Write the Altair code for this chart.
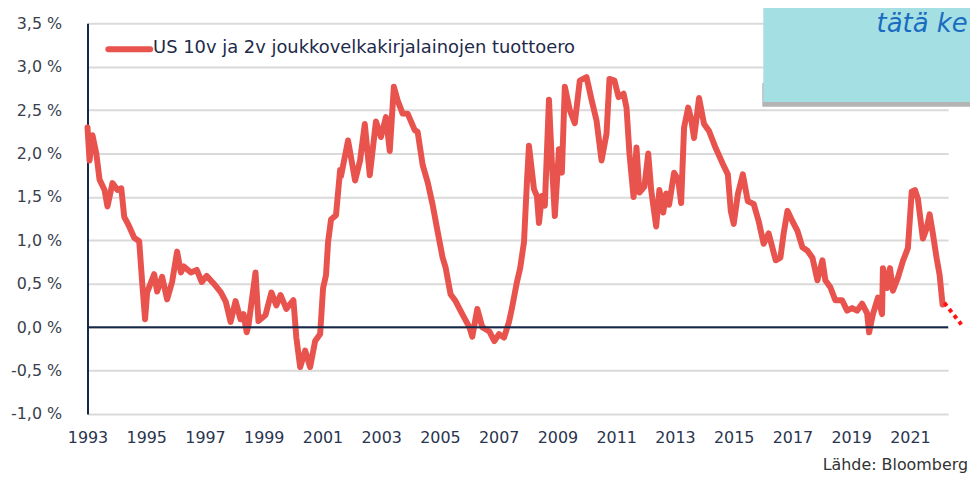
import altair as alt
import pandas as pd

# ---- data ----
years = [
    1993.00, 1993.07, 1993.17, 1993.30, 1993.41, 1993.58, 1993.68, 1993.85, 1994.02, 1994.15,
    1994.25, 1994.42, 1994.59, 1994.76, 1994.86, 1994.96, 1995.03, 1995.27, 1995.37, 1995.54,
    1995.71, 1995.88, 1996.05, 1996.18, 1996.28, 1996.52, 1996.72, 1996.89, 1997.06, 1997.30,
    1997.54, 1997.71, 1997.87, 1998.04, 1998.21, 1998.31, 1998.42, 1998.48, 1998.72, 1998.82,
    1999.06, 1999.26, 1999.43, 1999.57, 1999.77, 2000.01, 2000.11, 2000.24, 2000.41, 2000.58,
    2000.75, 2000.92, 2001.02, 2001.12, 2001.19, 2001.29, 2001.46, 2001.60, 2001.63, 2001.87,
    2002.11, 2002.28, 2002.44, 2002.61, 2002.82, 2002.99, 2003.16, 2003.29, 2003.43, 2003.56,
    2003.73, 2003.90, 2004.14, 2004.24, 2004.41, 2004.58, 2004.75, 2004.92, 2005.09, 2005.19,
    2005.36, 2005.53, 2005.76, 2006.00, 2006.10, 2006.27, 2006.44, 2006.68, 2006.85, 2007.01,
    2007.18, 2007.35, 2007.45, 2007.62, 2007.73, 2007.86, 2007.96, 2008.03, 2008.20, 2008.30,
    2008.37, 2008.47, 2008.57, 2008.71, 2008.81, 2008.91, 2009.05, 2009.15, 2009.25, 2009.42,
    2009.59, 2009.76, 2009.99, 2010.16, 2010.33, 2010.50, 2010.67, 2010.77, 2010.94, 2011.08,
    2011.25, 2011.35, 2011.45, 2011.59, 2011.69, 2011.79, 2011.96, 2012.09, 2012.19, 2012.36,
    2012.47, 2012.60, 2012.70, 2012.80, 2012.97, 2013.11, 2013.21, 2013.31, 2013.45, 2013.55,
    2013.65, 2013.82, 2013.99, 2014.16, 2014.39, 2014.63, 2014.80, 2014.90, 2015.00, 2015.14,
    2015.31, 2015.48, 2015.68, 2015.85, 2016.02, 2016.19, 2016.43, 2016.59, 2016.70, 2016.83,
    2017.00, 2017.17, 2017.34, 2017.51, 2017.68, 2017.85, 2018.02, 2018.12, 2018.29, 2018.46,
    2018.69, 2018.86, 2019.03, 2019.20, 2019.37, 2019.54, 2019.61, 2019.74, 2019.91, 2020.05,
    2020.08, 2020.22, 2020.32, 2020.42, 2020.59, 2020.76, 2020.93, 2021.06, 2021.17, 2021.27,
    2021.44, 2021.57, 2021.67, 2021.77, 2021.91, 2022.01, 2022.11,
]
spread = [
    2.30, 1.92, 2.21, 2.00, 1.70, 1.58, 1.39, 1.66, 1.58, 1.60,
    1.27, 1.16, 1.03, 0.99, 0.52, 0.09, 0.40, 0.61, 0.41, 0.58,
    0.32, 0.52, 0.87, 0.63, 0.70, 0.63, 0.66, 0.52, 0.59, 0.50,
    0.40, 0.29, 0.06, 0.30, 0.09, 0.15, -0.06, 0.02, 0.63, 0.07,
    0.14, 0.40, 0.25, 0.37, 0.21, 0.31, -0.12, -0.46, -0.27, -0.46,
    -0.16, -0.08, 0.45, 0.60, 0.98, 1.24, 1.29, 1.81, 1.74, 2.15,
    1.69, 1.92, 2.34, 1.75, 2.37, 2.19, 2.42, 2.03, 2.77, 2.61,
    2.46, 2.46, 2.27, 2.25, 1.87, 1.67, 1.41, 1.10, 0.80, 0.69,
    0.38, 0.30, 0.15, 0.00, -0.11, 0.21, 0.00, -0.05, -0.16, -0.08,
    -0.12, 0.06, 0.22, 0.52, 0.68, 0.98, 1.67, 2.09, 1.59, 1.51,
    1.20, 1.51, 1.40, 2.62, 1.89, 1.28, 2.05, 1.78, 2.77, 2.50,
    2.35, 2.84, 2.88, 2.62, 2.38, 1.92, 2.23, 2.86, 2.84, 2.65,
    2.69, 2.53, 2.00, 1.50, 2.07, 1.55, 1.62, 2.00, 1.58, 1.16,
    1.58, 1.32, 1.54, 1.41, 1.78, 1.70, 1.43, 2.30, 2.53, 2.40,
    2.18, 2.64, 2.34, 2.26, 2.06, 1.88, 1.76, 1.34, 1.19, 1.53,
    1.76, 1.45, 1.42, 1.22, 0.96, 1.08, 0.77, 0.80, 1.08, 1.34,
    1.22, 1.11, 0.92, 0.88, 0.80, 0.54, 0.77, 0.54, 0.46, 0.31,
    0.31, 0.19, 0.22, 0.19, 0.27, 0.16, -0.06, 0.15, 0.34, 0.15,
    0.68, 0.45, 0.68, 0.42, 0.57, 0.76, 0.91, 1.56, 1.58, 1.48,
    1.02, 1.14, 1.30, 1.10, 0.79, 0.60, 0.26,
]
trend_years = [2022.17, 2022.75]
trend_values = [0.28, 0.03]

series_name = "US 10v ja 2v joukkovelkakirjalainojen tuottoero"
y_ticks = [-1.0, -0.5, 0.0, 0.5, 1.0, 1.5, 2.0, 2.5, 3.0, 3.5]
x_ticks = [1993, 1995, 1997, 1999, 2001, 2003, 2005, 2007, 2009, 2011, 2013, 2015, 2017, 2019, 2021]
source_text = "Lähde: Bloomberg"
note_text = "tätä ke"

FONT = "DejaVu Sans"
NAVY = "#16284a"
RED = "#e8534e"

df = pd.DataFrame({"year": years, "spread": spread})
trend = pd.DataFrame({"year": trend_years, "spread": trend_values})
one = pd.DataFrame({"a": [0]})

x_scale = alt.Scale(domain=[1993, 2022.3], nice=False, zero=False)
y_scale = alt.Scale(domain=[-1.0, 3.5], nice=False, zero=False)

x_axis = alt.Axis(
    values=x_ticks, labelExpr="format(datum.value, 'd')", title=None,
    grid=False, ticks=False, domain=False, labelFont=FONT, labelFontSize=16,
    labelColor="#2a3550", labelPadding=16, labelFlush=False,
)
y_axis = alt.Axis(
    values=y_ticks,
    labelExpr="replace(replace(format(datum.value, '.1f'), '.', ','), '\u2212', '-') + ' %'",
    title=None, grid=True, gridColor="#dadada", gridWidth=2, ticks=False,
    domain=True, domainColor=NAVY, domainWidth=2, labelFont=FONT,
    labelFontSize=16, labelColor="#3a3f4e", labelPadding=26,
)

base_line = alt.Chart(df).mark_line(
    color=RED, strokeWidth=6, strokeJoin="round", strokeCap="round"
).encode(
    x=alt.X("year:Q", scale=x_scale, axis=x_axis),
    y=alt.Y("spread:Q", scale=y_scale, axis=y_axis),
)

zero_rule = alt.Chart(pd.DataFrame({"v": [0.0]})).mark_rule(
    color=NAVY, strokeWidth=2
).encode(y=alt.Y("v:Q", scale=y_scale))

trend_line = alt.Chart(trend).mark_line(
    color="#ff1414", strokeWidth=4, strokeDash=[4, 4], clip=False
).encode(
    x=alt.X("year:Q", scale=x_scale),
    y=alt.Y("spread:Q", scale=y_scale),
)

legend_line = alt.Chart(one).mark_rule(
    color=RED, strokeWidth=6, strokeCap="round"
).encode(x=alt.value(21), x2=alt.value(63), y=alt.value(26))

legend_text = alt.Chart(one).mark_text(
    text=series_name, font=FONT, fontSize=18, color="#1e2a4a",
    align="left", baseline="middle"
).encode(x=alt.value(66), y=alt.value(25))

box_shadow = alt.Chart(one).mark_rect(
    color="#6a6a6a", opacity=0.5
).encode(x=alt.value(679), x2=alt.value(888), y=alt.value(60), y2=alt.value(84))

box = alt.Chart(one).mark_rect(color="#a4dfe3").encode(
    x=alt.value(680), x2=alt.value(888), y=alt.value(-22), y2=alt.value(79)
)

note = alt.Chart(one).mark_text(
    text=note_text, font=FONT, fontStyle="italic", fontSize=26,
    color="#1a6cc0", align="left", baseline="alphabetic"
).encode(x=alt.value(794), y=alt.value(9))

source = alt.Chart(one).mark_text(
    text=source_text, font=FONT, fontSize=16, color="#333333",
    align="right", baseline="middle"
).encode(x=alt.value(886), y=alt.value(444))

chart = alt.layer(
    base_line, zero_rule, trend_line, legend_line, legend_text,
    box_shadow, box, note, source
).properties(
    width=866, height=393,
    autosize=alt.AutoSizeParams(type="none"),
    padding={"left": 80, "top": 14, "right": 22, "bottom": 62},
    background="white",
).configure_view(stroke=None)

chart.save("out.html", embed_options={"renderer": "svg", "actions": False})
